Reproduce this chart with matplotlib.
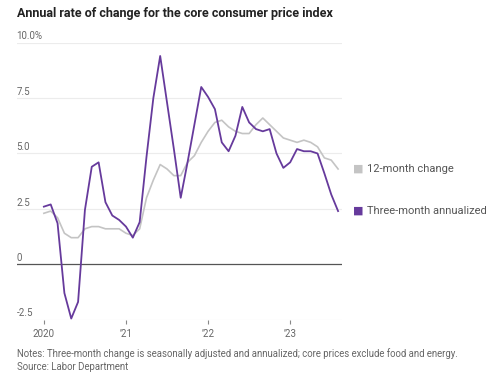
import numpy as np
import matplotlib
matplotlib.use('Agg')
import matplotlib.pyplot as plt

# monthly, Jan 2020 .. Aug 2023
twelve_month = [2.3, 2.4, 2.1, 1.4, 1.2, 1.2, 1.6, 1.7, 1.7, 1.6, 1.6, 1.6,
                1.4, 1.3, 1.6, 3.0, 3.8, 4.5, 4.3, 4.0, 4.0, 4.6, 4.9, 5.5,
                6.0, 6.4, 6.5, 6.2, 6.0, 5.9, 5.9, 6.3, 6.6, 6.3, 6.0, 5.7,
                5.6, 5.5, 5.6, 5.5, 5.3, 4.8, 4.7, 4.3]
three_month = [2.6, 2.7, 1.85, -1.3, -2.45, -1.7, 2.45, 4.4, 4.6, 2.8, 2.2, 2.0,
               1.7, 1.2, 1.9, 4.85, 7.5, 9.4, 7.3, 5.2, 3.0, 4.6, 6.3, 8.0,
               7.55, 7.0, 5.5, 5.1, 5.8, 7.1, 6.4, 6.1, 6.0, 6.1, 5.0, 4.35,
               4.6, 5.2, 5.1, 5.1, 5.0, 4.1, 3.15, 2.4]
series_labels = ['12-month change', 'Three-month annualized']
year_ticks = [0, 12, 24, 36]
year_labels = ['2020', "\u201921", "\u201922", "\u201923"]
y_ticks = [-2.5, 0, 2.5, 5.0, 7.5, 10.0]
y_labels = ['-2.5', '0', '2.5', '5.0', '7.5', '10.0%']

title = 'Annual rate of change for the core consumer price index'
note = 'Notes: Three-month change is seasonally adjusted and annualized; core prices exclude food and energy.'
source = 'Source: Labor Department'

PURPLE = '#663a9c'
GRAY = '#c4c4c4'
TXT = '#666666'

plt.rcParams['font.family'] = ['Roboto', 'DejaVu Sans']

fig = plt.figure(figsize=(5.0, 3.81), dpi=100)
ax = fig.add_axes([0.033, 0.161, 0.65, 0.727])

months = np.arange(len(twelve_month))

for v, lab in zip(y_ticks, y_labels):
    if v == 0:
        ax.axhline(0, color='#555555', lw=0.9, zorder=1)
    elif v == -2.5:
        ax.axhline(v, color='#dddddd', lw=0.8, zorder=1)
    else:
        ax.axhline(v, color='#ececec', lw=0.8, zorder=1)
    ax.text(0.0, v + 0.06, lab, transform=ax.get_yaxis_transform(),
            ha='left', va='bottom', fontsize=7, color=TXT)

ax.plot(months, twelve_month, color=GRAY, lw=1.2, zorder=2)
ax.plot(months, three_month, color=PURPLE, lw=1.3, zorder=3)

# end-of-line labels
for vals, col, lab in [(twelve_month, GRAY, series_labels[0]),
                       (three_month, PURPLE, series_labels[1])]:
    ax.annotate('\u25a0', xy=(months[-1], vals[-1]), xytext=(11, 0),
                textcoords='offset points', ha='left', va='center',
                fontsize=8, color=col, annotation_clip=False,
                family='DejaVu Sans')
    ax.annotate(lab, xy=(months[-1], vals[-1]), xytext=(21, 0),
                textcoords='offset points', ha='left', va='center',
                fontsize=8, color='#555555', annotation_clip=False)

ax.set_xlim(-4, 43.5)
ax.set_ylim(-2.5, 10)
ax.set_yticks([])
ax.set_xticks(year_ticks)
ax.set_xticklabels(year_labels, fontsize=7, color=TXT)
ax.tick_params(axis='x', length=3, width=0.8, color='#888888', pad=4)
for s in ['top', 'right', 'left', 'bottom']:
    ax.spines[s].set_visible(False)

fig.text(0.034, 0.965, title, fontsize=9, fontweight='bold', color='#222222',
         ha='left', va='center')
fig.text(0.034, 0.073, note, fontsize=6.9, color=TXT, ha='left', va='center')
fig.text(0.034, 0.037, source, fontsize=6.9, color=TXT, ha='left', va='center')

fig.savefig('out.png', dpi=100)
